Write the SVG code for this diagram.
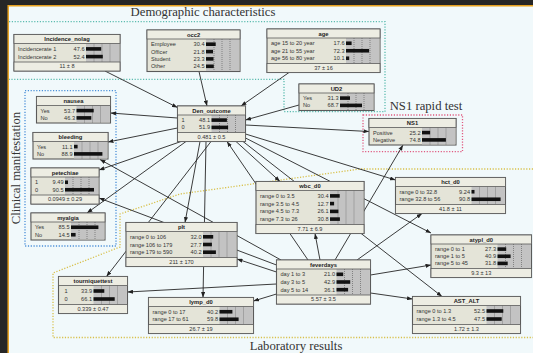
<svg xmlns="http://www.w3.org/2000/svg" width="533" height="353" viewBox="0 0 533 353">
<defs>
<style>
.nb{fill:#e4e4d8;stroke:#5a5a5a;stroke-width:1.1}
.nh{fill:#ededE3;stroke:#5a5a5a;stroke-width:0.8}
.gc{fill:#c3c3c3}
.tk{stroke:#555;stroke-width:0.6;stroke-dasharray:1 1;fill:none}
.br{fill:#111}
.tt{font-family:"Liberation Sans",Arial,sans-serif;font-size:5.8px;font-weight:bold;text-anchor:middle;fill:#222}
.tx{font-family:"Liberation Sans",Arial,sans-serif;font-size:5.6px;fill:#333}
.tv{text-anchor:end}
.tf{text-anchor:middle}
.gl{font-family:"Liberation Serif","Times New Roman",serif;font-size:12.7px;fill:#333}
.ed{stroke:#262626;stroke-width:0.9;fill:none;marker-end:url(#ah)}
.gb{fill:none;stroke-width:1.3;stroke-dasharray:1.2 1.6}
</style>
<marker id="ah" viewBox="0 0 8 6" refX="8" refY="3" markerWidth="5.5" markerHeight="4.2" orient="auto" markerUnits="userSpaceOnUse"><path d="M0 0L8 3L0 6z" fill="#222"/></marker>
</defs>
<rect width="533" height="353" fill="#262626"/>
<rect x="8" y="6" width="525" height="347" fill="#f1f9fb"/>
<path d="M7.5 5.8H533M8.2 5V353" stroke="#e6a11f" stroke-width="1.5" fill="none"/>

<g id="groups">
<path class="gb" stroke="#5cbcb0" d="M9 21.7H385V111.7H284V79.3H9"/>
<rect class="gb" stroke="#4a8fd8" x="25" y="90.7" width="91" height="155.3"/>
<rect class="gb" stroke="#e05a80" x="363" y="115" width="99.5" height="36.7"/>
<path class="gb" stroke="#d8c04a" d="M533 169H360L180 194L120 214V247L53 273V337.5H533"/>
<text class="gl" x="203" y="15.8" text-anchor="middle">Demographic characteristics</text>
<text class="gl" x="426" y="110" text-anchor="middle">NS1 rapid test</text>
<text class="gl" x="296" y="350" text-anchor="middle">Laboratory results</text>
<text class="gl" transform="translate(20,168) rotate(-90)" text-anchor="middle">Clinical manifestation</text>
</g>

<g id="connectors">
<path class="ed" d="M105 71L177.5 107.5"/>
<path class="ed" d="M199 71.5L207 106"/>
<path class="ed" d="M289 72.5L241 106"/>
<path class="ed" d="M299 105L245.5 120"/>
<path class="ed" d="M177.5 118L110.5 113"/>
<path class="ed" d="M177.5 128L108 142"/>
<path class="ed" d="M181 141.5L99 170"/>
<path class="ed" d="M186 141.5L87 213"/>
<path class="ed" d="M245.5 125L369 131.5"/>
<path class="ed" d="M245.5 134L395.5 180"/>
<path class="ed" d="M236 141.5L280 181.5"/>
<path class="ed" d="M243 141.5L442 296.5"/>
<path class="ed" d="M245.5 138L431 233"/>
<path class="ed" d="M308 260L227 141.5"/>
<path class="ed" d="M335 260L403 145"/>
<path class="ed" d="M320 260L315 233.5"/>
<path class="ed" d="M357 260L422 213.5"/>
<path class="ed" d="M370.5 275L431 265"/>
<path class="ed" d="M370.5 293L412.5 299"/>
<path class="ed" d="M276.5 294L253.5 301"/>
<path class="ed" d="M276.5 284L127.5 292"/>
<path class="ed" d="M276.5 272L237 259"/>
<path class="ed" d="M281 260L100 159.5"/>
<path class="ed" d="M276.5 265L99 198"/>
<path class="ed" d="M211 141.5L106.5 276.5"/>
<path class="ed" d="M200 141.5L185 222.5"/>
<path class="ed" d="M206 141.5L203 297.5"/>
</g>

<g id="incidence_nolag" transform="translate(14,34.5)">
<rect class="nb" width="106" height="36.5"/>
<rect class="gc" x="72" y="9" width="33.4" height="18.5"/>
<path class="tk" d="M80 9V27.5M88 9V27.5M96 9V27.5"/>
<rect class="br" x="72" y="12.6" width="15.2" height="3.6"/>
<rect class="br" x="72" y="20.3" width="16.8" height="3.6"/>
<rect class="nh" width="106" height="9"/>
<rect class="nh" y="27.5" width="106" height="9"/>
<text class="tt" x="53" y="6.6">Incidence_nolag</text>
<text class="tx" x="4" y="16.4">Incidencerate 1</text><text class="tx tv" x="70.5" y="16.4">47.6</text>
<text class="tx" x="4" y="24.1">Incidencerate 2</text><text class="tx tv" x="70.5" y="24.1">52.4</text>
<text class="tx tf" x="53" y="33.9">11 ± 8</text>
</g>

<g id="occ2" transform="translate(147,30)">
<rect class="nb" width="93" height="41.5"/>
<rect class="gc" x="59" y="9" width="33.4" height="32"/>
<path class="tk" d="M67 9V41M75 9V41M83 9V41"/>
<rect class="br" x="59" y="12.4" width="9.7" height="3.6"/>
<rect class="br" x="59" y="19.8" width="7" height="3.6"/>
<rect class="br" x="59" y="27.1" width="7.5" height="3.6"/>
<rect class="br" x="59" y="34.5" width="7.8" height="3.6"/>
<rect class="nh" width="93" height="9"/>
<text class="tt" x="46.5" y="6.6">occ2</text>
<text class="tx" x="4" y="16.2">Employee</text><text class="tx tv" x="57.5" y="16.2">30.4</text>
<text class="tx" x="4" y="23.6">Officer</text><text class="tx tv" x="57.5" y="23.6">21.8</text>
<text class="tx" x="4" y="30.9">Student</text><text class="tx tv" x="57.5" y="30.9">23.3</text>
<text class="tx" x="4" y="38.3">Other</text><text class="tx tv" x="57.5" y="38.3">24.5</text>
</g>

<g id="age" transform="translate(267,29)">
<rect class="nb" width="113" height="43.5"/>
<rect class="gc" x="79" y="9" width="33.4" height="25.5"/>
<path class="tk" d="M87 9V34.5M95 9V34.5M103 9V34.5"/>
<rect class="br" x="79" y="12.45" width="5.6" height="3.6"/>
<rect class="br" x="79" y="19.95" width="23.1" height="3.6"/>
<rect class="br" x="79" y="27.45" width="3.2" height="3.6"/>
<rect class="nh" width="113" height="9"/>
<rect class="nh" y="34.5" width="113" height="9"/>
<text class="tt" x="56.5" y="6.6">age</text>
<text class="tx" x="4" y="16.25">age 15 to 20 year</text><text class="tx tv" x="77.5" y="16.25">17.6</text>
<text class="tx" x="4" y="23.75">age 21 to 55 year</text><text class="tx tv" x="77.5" y="23.75">72.3</text>
<text class="tx" x="4" y="31.25">age 56 to 80 year</text><text class="tx tv" x="77.5" y="31.25">10.1</text>
<text class="tx tf" x="56.5" y="40.9">37 ± 16</text>
</g>

<g id="ud2" transform="translate(299,84)">
<rect class="nb" width="75" height="26.5"/>
<rect class="gc" x="41" y="9" width="33.4" height="17"/>
<path class="tk" d="M49 9V26M57 9V26M65 9V26"/>
<rect class="br" x="41" y="12.3" width="10" height="3.6"/>
<rect class="br" x="41" y="19.6" width="22" height="3.6"/>
<rect class="nh" width="75" height="9"/>
<text class="tt" x="37.5" y="6.6">UD2</text>
<text class="tx" x="4" y="16.1">Yes</text><text class="tx tv" x="39.5" y="16.1">31.3</text>
<text class="tx" x="4" y="23.4">No</text><text class="tx tv" x="39.5" y="23.4">68.7</text>
</g>

<g id="nausea" transform="translate(36.5,96.5)">
<rect class="nb" width="74" height="26.5"/>
<rect class="gc" x="40" y="9" width="33.4" height="17"/>
<path class="tk" d="M48 9V26M56 9V26M64 9V26"/>
<rect class="br" x="40" y="12.3" width="17.2" height="3.6"/>
<rect class="br" x="40" y="19.6" width="14.8" height="3.6"/>
<rect class="nh" width="74" height="9"/>
<text class="tt" x="37" y="6.6">nausea</text>
<text class="tx" x="4" y="16.1">Yes</text><text class="tx tv" x="38.5" y="16.1">53.7</text>
<text class="tx" x="4" y="23.4">No</text><text class="tx tv" x="38.5" y="23.4">46.3</text>
</g>

<g id="bleeding" transform="translate(33,132.5)">
<rect class="nb" width="75" height="26.5"/>
<rect class="gc" x="41" y="9" width="33.4" height="17"/>
<path class="tk" d="M49 9V26M57 9V26M65 9V26"/>
<rect class="br" x="41" y="12.3" width="3.6" height="3.6"/>
<rect class="br" x="41" y="19.6" width="28.4" height="3.6"/>
<rect class="nh" width="75" height="9"/>
<text class="tt" x="37.5" y="6.6">bleeding</text>
<text class="tx" x="4" y="16.1">Yes</text><text class="tx tv" x="39.5" y="16.1">11.1</text>
<text class="tx" x="4" y="23.4">No</text><text class="tx tv" x="39.5" y="23.4">88.9</text>
</g>

<g id="petechiae" transform="translate(31,168)">
<rect class="nb" width="68" height="36"/>
<rect class="gc" x="34" y="9" width="33.4" height="18"/>
<path class="tk" d="M42 9V27M50 9V27M58 9V27"/>
<rect class="br" x="34" y="12.45" width="3" height="3.6"/>
<rect class="br" x="34" y="19.95" width="29" height="3.6"/>
<rect class="nh" width="68" height="9"/>
<rect class="nh" y="27" width="68" height="9"/>
<text class="tt" x="34" y="6.6">petechiae</text>
<text class="tx" x="4" y="16.25">1</text><text class="tx tv" x="32.5" y="16.25">9.49</text>
<text class="tx" x="4" y="23.75">0</text><text class="tx tv" x="32.5" y="23.75">90.5</text>
<text class="tx tf" x="34" y="33.4">0.0949 ± 0.29</text>
</g>

<g id="myalgia" transform="translate(31,213)">
<rect class="nb" width="74" height="27"/>
<rect class="gc" x="40" y="9" width="33.4" height="17.5"/>
<path class="tk" d="M48 9V26.5M56 9V26.5M64 9V26.5"/>
<rect class="br" x="40" y="12.45" width="27.4" height="3.6"/>
<rect class="br" x="40" y="19.95" width="4.6" height="3.6"/>
<rect class="nh" width="74" height="9"/>
<text class="tt" x="37" y="6.6">myalgia</text>
<text class="tx" x="4" y="16.25">Yes</text><text class="tx tv" x="38.5" y="16.25">85.5</text>
<text class="tx" x="4" y="23.75">No</text><text class="tx tv" x="38.5" y="23.75">14.5</text>
</g>

<g id="den_outcome" transform="translate(177.5,106)">
<rect class="nb" width="68" height="35.5"/>
<rect class="gc" x="34" y="9" width="33.4" height="17.5"/>
<path class="tk" d="M42 9V26.5M50 9V26.5M58 9V26.5"/>
<rect class="br" x="34" y="12.3" width="15.4" height="3.6"/>
<rect class="br" x="34" y="19.6" width="16.6" height="3.6"/>
<rect class="nh" width="68" height="9"/>
<rect class="nh" y="26.5" width="68" height="9"/>
<text class="tt" x="34" y="6.6">Den_outcome</text>
<text class="tx" x="4" y="16.1">1</text><text class="tx tv" x="32.5" y="16.1">48.1</text>
<text class="tx" x="4" y="23.4">0</text><text class="tx tv" x="32.5" y="23.4">51.9</text>
<text class="tx tf" x="34" y="32.9">0.481 ± 0.5</text>
</g>

<g id="ns1" transform="translate(369,118.5)">
<rect class="nb" width="87" height="26.5"/>
<rect class="gc" x="53" y="9" width="33.4" height="17"/>
<path class="tk" d="M61 9V26M69 9V26M77 9V26"/>
<rect class="br" x="53" y="12.3" width="8.1" height="3.6"/>
<rect class="br" x="53" y="19.6" width="23.9" height="3.6"/>
<rect class="nh" width="87" height="9"/>
<text class="tt" x="43.5" y="6.6">NS1</text>
<text class="tx" x="4" y="16.1">Positive</text><text class="tx tv" x="51.5" y="16.1">25.2</text>
<text class="tx" x="4" y="23.4">Negative</text><text class="tx tv" x="51.5" y="23.4">74.8</text>
</g>

<g id="wbc_d0" transform="translate(256,181.5)">
<rect class="nb" width="108" height="52"/>
<rect class="gc" x="74" y="9" width="33.4" height="34"/>
<path class="tk" d="M82 9V43M90 9V43M98 9V43"/>
<rect class="br" x="74" y="12.6" width="9.7" height="3.6"/>
<rect class="br" x="74" y="20.3" width="4.1" height="3.6"/>
<rect class="br" x="74" y="28.1" width="8.4" height="3.6"/>
<rect class="br" x="74" y="35.8" width="9.9" height="3.6"/>
<rect class="nh" width="108" height="9"/>
<rect class="nh" y="43" width="108" height="9"/>
<text class="tt" x="54" y="6.6">wbc_d0</text>
<text class="tx" x="4" y="16.4">range 0 to 3.5</text><text class="tx tv" x="72.5" y="16.4">30.4</text>
<text class="tx" x="4" y="24.1">range 3.5 to 4.5</text><text class="tx tv" x="72.5" y="24.1">12.7</text>
<text class="tx" x="4" y="31.9">range 4.5 to 7.3</text><text class="tx tv" x="72.5" y="31.9">26.1</text>
<text class="tx" x="4" y="39.6">range 7.3 to 26</text><text class="tx tv" x="72.5" y="39.6">30.8</text>
<text class="tx tf" x="54" y="49.4">7.71 ± 6.9</text>
</g>

<g id="hct_d0" transform="translate(395.5,177.5)">
<rect class="nb" width="110" height="36"/>
<rect class="gc" x="76" y="9" width="33.4" height="18"/>
<path class="tk" d="M84 9V27M92 9V27M100 9V27"/>
<rect class="br" x="76" y="12.45" width="3" height="3.6"/>
<rect class="br" x="76" y="19.95" width="29.1" height="3.6"/>
<rect class="nh" width="110" height="9"/>
<rect class="nh" y="27" width="110" height="9"/>
<text class="tt" x="55" y="6.6">hct_d0</text>
<text class="tx" x="4" y="16.25">range 0 to 32.8</text><text class="tx tv" x="74.5" y="16.25">9.24</text>
<text class="tx" x="4" y="23.75">range 32.8 to 56</text><text class="tx tv" x="74.5" y="23.75">90.8</text>
<text class="tx tf" x="55" y="33.4">41.8 ± 11</text>
</g>

<g id="plt" transform="translate(126,222.5)">
<rect class="nb" width="111" height="44"/>
<rect class="gc" x="77" y="9" width="33.4" height="26"/>
<path class="tk" d="M85 9V35M93 9V35M101 9V35"/>
<rect class="br" x="77" y="12.5" width="10.2" height="3.6"/>
<rect class="br" x="77" y="20.2" width="8.9" height="3.6"/>
<rect class="br" x="77" y="27.9" width="12.9" height="3.6"/>
<rect class="nh" width="111" height="9"/>
<rect class="nh" y="35" width="111" height="9"/>
<text class="tt" x="55.5" y="6.6">plt</text>
<text class="tx" x="4" y="16.3">range 0 to 106</text><text class="tx tv" x="75.5" y="16.3">32.0</text>
<text class="tx" x="4" y="24">range 106 to 179</text><text class="tx tv" x="75.5" y="24">27.7</text>
<text class="tx" x="4" y="31.7">range 179 to 590</text><text class="tx tv" x="75.5" y="31.7">40.2</text>
<text class="tx tf" x="55.5" y="41.4">211 ± 170</text>
</g>

<g id="tourniquettest" transform="translate(58.5,276.5)">
<rect class="nb" width="69" height="37"/>
<rect class="gc" x="35" y="9" width="33.4" height="19"/>
<path class="tk" d="M43 9V28M51 9V28M59 9V28"/>
<rect class="br" x="35" y="12.7" width="10.8" height="3.6"/>
<rect class="br" x="35" y="20.7" width="21.2" height="3.6"/>
<rect class="nh" width="69" height="9"/>
<rect class="nh" y="28" width="69" height="9"/>
<text class="tt" x="34.5" y="6.6">tourniquettest</text>
<text class="tx" x="6" y="16.5">1</text><text class="tx tv" x="33.5" y="16.5">33.9</text>
<text class="tx" x="6" y="24.5">0</text><text class="tx tv" x="33.5" y="24.5">66.1</text>
<text class="tx tf" x="34.5" y="34.4">0.339 ± 0.47</text>
</g>

<g id="feverdays" transform="translate(276.5,260)">
<rect class="nb" width="94" height="44"/>
<rect class="gc" x="60" y="9" width="33.4" height="26"/>
<path class="tk" d="M68 9V35M76 9V35M84 9V35"/>
<rect class="br" x="60" y="12.5" width="6.7" height="3.6"/>
<rect class="br" x="60" y="20.2" width="13.7" height="3.6"/>
<rect class="br" x="60" y="27.9" width="11.6" height="3.6"/>
<rect class="nh" width="94" height="9"/>
<rect class="nh" y="35" width="94" height="9"/>
<text class="tt" x="47" y="6.6">feverdays</text>
<text class="tx" x="4" y="16.3">day 1 to 3</text><text class="tx tv" x="58.5" y="16.3">21.0</text>
<text class="tx" x="4" y="24">day 3 to 5</text><text class="tx tv" x="58.5" y="24">42.9</text>
<text class="tx" x="4" y="31.7">day 5 to 14</text><text class="tx tv" x="58.5" y="31.7">36.1</text>
<text class="tx tf" x="47" y="41.4">5.57 ± 3.5</text>
</g>

<g id="lymp_d0" transform="translate(148.5,297.5)">
<rect class="nb" width="105" height="36"/>
<rect class="gc" x="71" y="9" width="33.4" height="18"/>
<path class="tk" d="M79 9V27M87 9V27M95 9V27"/>
<rect class="br" x="71" y="12.45" width="12.9" height="3.6"/>
<rect class="br" x="71" y="19.95" width="19.1" height="3.6"/>
<rect class="nh" width="105" height="9"/>
<rect class="nh" y="27" width="105" height="9"/>
<text class="tt" x="52.5" y="6.6">lymp_d0</text>
<text class="tx" x="4" y="16.25">range 0 to 17</text><text class="tx tv" x="69.5" y="16.25">40.2</text>
<text class="tx" x="4" y="23.75">range 17 to 61</text><text class="tx tv" x="69.5" y="23.75">59.8</text>
<text class="tx tf" x="52.5" y="33.4">26.7 ± 19</text>
</g>

<g id="atypl_d0" transform="translate(431,235)">
<rect class="nb" width="100.5" height="42.5"/>
<rect class="gc" x="66.5" y="9" width="33.4" height="24.5"/>
<path class="tk" d="M74.5 9V33.5M82.5 9V33.5M90.5 9V33.5"/>
<rect class="br" x="66.5" y="12.3" width="8.7" height="3.6"/>
<rect class="br" x="66.5" y="19.45" width="13.1" height="3.6"/>
<rect class="br" x="66.5" y="26.6" width="10.2" height="3.6"/>
<rect class="nh" width="100.5" height="9"/>
<rect class="nh" y="33.5" width="100.5" height="9"/>
<text class="tt" x="50.25" y="6.6">atypl_d0</text>
<text class="tx" x="4" y="16.1">range 0 to 1</text><text class="tx tv" x="65" y="16.1">27.3</text>
<text class="tx" x="4" y="23.25">range 1 to 5</text><text class="tx tv" x="65" y="23.25">40.9</text>
<text class="tx" x="4" y="30.4">range 5 to 45</text><text class="tx tv" x="65" y="30.4">31.8</text>
<text class="tx tf" x="50.25" y="39.9">9.3 ± 13</text>
</g>

<g id="ast_alt" transform="translate(412.5,296.5)">
<rect class="nb" width="108" height="37"/>
<rect class="gc" x="74" y="9" width="33.4" height="19"/>
<path class="tk" d="M82 9V28M90 9V28M98 9V28"/>
<rect class="br" x="74" y="12.7" width="16.8" height="3.6"/>
<rect class="br" x="74" y="20.7" width="15.2" height="3.6"/>
<rect class="nh" width="108" height="9"/>
<rect class="nh" y="28" width="108" height="9"/>
<text class="tt" x="54" y="6.6">AST_ALT</text>
<text class="tx" x="4" y="16.5">range 0 to 1.3</text><text class="tx tv" x="72.5" y="16.5">52.5</text>
<text class="tx" x="4" y="24.5">range 1.3 to 4.5</text><text class="tx tv" x="72.5" y="24.5">47.5</text>
<text class="tx tf" x="54" y="34.4">1.72 ± 1.3</text>
</g>
</svg>
